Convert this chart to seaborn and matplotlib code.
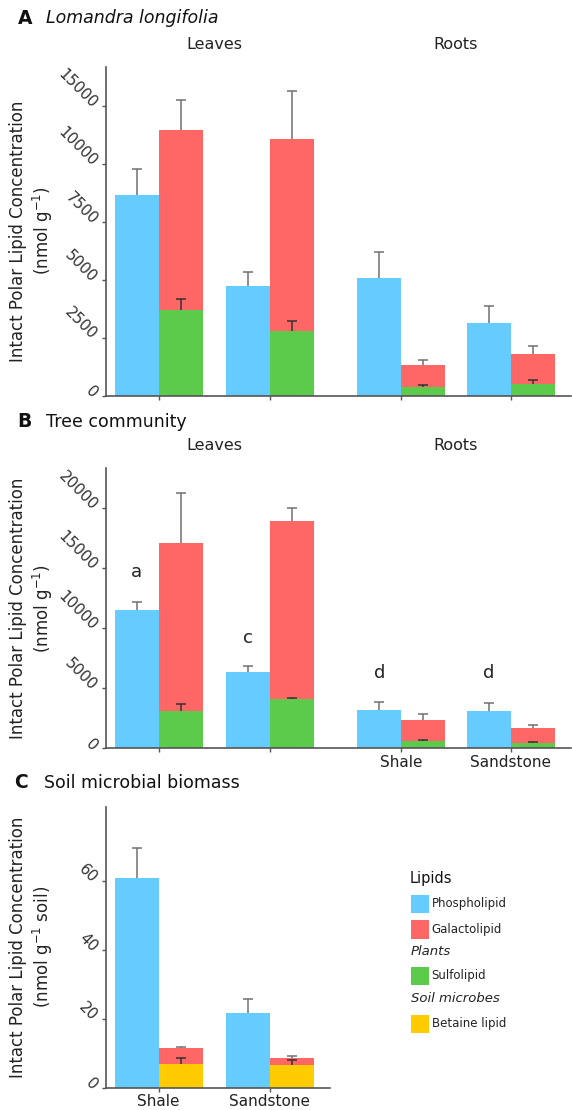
# -*- coding: utf-8 -*-

# Intact polar lipids in leaves, roots and soil (three stacked panels)
import numpy as np
import pandas as pd
import seaborn as sns
import matplotlib.pyplot as plt
import matplotlib.transforms as mtransforms
from matplotlib.patches import Rectangle

sns.set_theme(style="ticks")
plt.rcParams['font.family'] = ['DejaVu Sans']

W, H = 572, 1110

# colours
c_phos = '#66CCFF'
c_gal = '#FF6666'
c_sulf = '#5CCB4C'
c_bet = '#FFCC00'

# group positions: leaves shale, leaves sandstone, roots shale, roots sandstone
pos = [0, 1, 2.18, 3.16]
pos_c = [0, 1]
bar_w = 0.395

# Panel A - Lomandra longifolia (nmol g-1)
A_phos = [8650, 4720, 5080, 3110]
A_phos_err = [1120, 620, 1120, 750]
A_gal = [7760, 8270, 960, 1280]      # galactolipid, stacked on sulfolipid
A_gal_err = [1290, 2070, 220, 360]
A_sulf = [3690, 2800, 355, 495]
A_sulf_err = [460, 420, 100, 175]
A_ticks = [0, 2500, 5000, 7500, 10000, 12500]
A_ticklabels = ['0', '2500', '5000', '7500', '10000', '15000']

# Panel B - Tree community (nmol g-1)
B_phos = [11525, 6380, 3190, 3130]
B_phos_err = [690, 475, 640, 620]
B_gal = [13950, 14880, 1725, 1200]
B_gal_err = [4220, 1080, 475, 275]
B_sulf = [3135, 4085, 635, 465]
B_sulf_err = [560, 135, 60, 60]
B_ticks = [0, 5000, 10000, 15000, 20000]
B_letters = ['a', 'c', 'd', 'd']
B_letter_y = [14700, 9200, 6300, 6300]

# Panel C - Soil microbial biomass (nmol g-1 soil)
C_phos = [60.6, 21.7]
C_phos_err = [8.7, 4.0]
C_gal = [4.6, 2.1]
C_gal_err = [0.4, 0.5]
C_bet = [6.8, 6.5]
C_bet_err = [1.7, 1.5]
C_ticks = [0, 20, 40, 60]

sites = ['Shale', 'Sandstone']

legend_items = [('Phospholipid', c_phos), ('Galactolipid', c_gal), ('Plants', None),
                ('Sulfolipid', c_sulf), ('Soil microbes', None), ('Betaine lipid', c_bet)]


def fx(x):
    return x / W


def fy(y):
    return 1 - y / H


def up_err(ax, x, y, err, col):
    y = np.array(y, dtype=float)
    err = np.array(err, dtype=float)
    ax.vlines(x, y, y + err, color=col, lw=1.1, zorder=5)
    ax.plot(x, y + err, ls='none', marker='_', ms=7, mew=1.1, color=col, zorder=5)


def draw_bars(ax, x, phos, phos_err, gal, gal_err, base, base_err, base_col):
    x = np.array(x, dtype=float)
    xl = x - bar_w / 2
    xr = x + bar_w / 2
    wscale = bar_w / np.diff(x).min()
    top = np.array(base) + np.array(gal)
    kw = dict(native_scale=True, width=wscale, saturation=1, errorbar=None,
              linewidth=0, ax=ax)
    sns.barplot(x=xl, y=phos, color=c_phos, **kw)
    sns.barplot(x=xr, y=top, color=c_gal, **kw)
    sns.barplot(x=xr, y=base, color=base_col, **kw)
    up_err(ax, xl, phos, phos_err, '#707070')
    up_err(ax, xr, top, gal_err, '#707070')
    up_err(ax, xr, base, base_err, '#333333')
    return xl


def style_axis(ax, ticks, ticklabels, ylabel, xlim, ylim):
    sns.despine(ax=ax)
    for s in ['left', 'bottom']:
        ax.spines[s].set_color('#555555')
        ax.spines[s].set_linewidth(1.2)
    ax.set_xlim(*xlim)
    ax.set_ylim(*ylim)
    ax.set_yticks(ticks)
    ax.set_yticklabels(ticklabels, rotation=-45, ha='right', va='center',
                       rotation_mode='anchor', fontsize=11, color='#333333')
    ax.tick_params(axis='both', length=3, width=1, color='#555555')
    ax.tick_params(axis='y', pad=5)
    ax.tick_params(axis='x', labelsize=11, labelcolor='#222222', pad=1.5)
    ax.set_xlabel('')
    ax.set_ylabel('')
    bb = ax.get_position()
    fig.text(fx(32), (bb.y0 + bb.y1) / 2, ylabel, rotation=90, ha='center',
             va='center', fontsize=12, color='#222222', linespacing=1.2)


fig = plt.figure(figsize=(W / 100, H / 100), dpi=100)

axA = fig.add_axes([fx(105.8), fy(395.5), (570.7 - 105.8) / W, (395.5 - 66.7) / H])
axB = fig.add_axes([fx(105.8), fy(748.3), (570.7 - 105.8) / W, (748.3 - 468.3) / H])
axC = fig.add_axes([fx(105.8), fy(1087.5), (330 - 105.8) / W, (1087.5 - 806.7) / H])

# Panel A
draw_bars(axA, pos, A_phos, A_phos_err, A_gal, A_gal_err, A_sulf, A_sulf_err, c_sulf)
style_axis(axA, A_ticks, A_ticklabels, 'Intact Polar Lipid Concentration\n(nmol g$^{-1}$)',
           (-0.474, 3.70), (0, 14180))
axA.set_xticks(pos)
axA.set_xticklabels([''] * 4)

# Panel B
xl_B = draw_bars(axB, pos, B_phos, B_phos_err, B_gal, B_gal_err, B_sulf, B_sulf_err, c_sulf)
style_axis(axB, B_ticks, [str(t) for t in B_ticks],
           'Intact Polar Lipid Concentration\n(nmol g$^{-1}$)', (-0.474, 3.70), (0, 23330))
axB.set_xticks(pos)
axB.set_xticklabels(['', ''] + sites)
for xi, yi, s in zip(xl_B, B_letter_y, B_letters):
    axB.text(xi, yi, s, ha='center', va='center', fontsize=13, color='#222222')

# Panel C
draw_bars(axC, pos_c, C_phos, C_phos_err, C_gal, C_gal_err, C_bet, C_bet_err, c_bet)
style_axis(axC, C_ticks, [str(t) for t in C_ticks],
           'Intact Polar Lipid Concentration\n(nmol g$^{-1}$ soil)', (-0.474, 1.54), (0, 81.4))
axC.set_xticks(pos_c)
axC.set_xticklabels(sites)

# Leaves / Roots headers
for ax, yy in [(axA, 1.069), (axB, 1.083)]:
    tr = mtransforms.blended_transform_factory(ax.transData, ax.transAxes)
    ax.text((pos[0] + pos[1]) / 2, yy, 'Leaves', transform=tr, ha='center', va='center',
            fontsize=11.5, color='#222222')
    ax.text((pos[2] + pos[3]) / 2, yy, 'Roots', transform=tr, ha='center', va='center',
            fontsize=11.5, color='#222222')

# panel titles
fig.text(fx(17.5), fy(18), 'A', fontsize=13.5, fontweight='bold', va='center', color='#111111')
fig.text(fx(45.6), fy(18), 'Lomandra longifolia', fontsize=12.5, style='italic', va='center',
         color='#111111')
fig.text(fx(17.5), fy(421.7), 'B', fontsize=13.5, fontweight='bold', va='center', color='#111111')
fig.text(fx(45.6), fy(421.7), 'Tree community', fontsize=12.5, va='center', color='#111111')
fig.text(fx(14.6), fy(782.7), 'C', fontsize=13.5, fontweight='bold', va='center', color='#111111')
fig.text(fx(43.8), fy(782.7), 'Soil microbial biomass', fontsize=12.5, va='center', color='#111111')

# legend
fig.text(fx(410), fy(878.3), 'Lipids', fontsize=10.5, va='center', color='#111111')
leg_y = [904, 929.5, 951.7, 975.8, 998.3, 1024]
for (lab, col), yy in zip(legend_items, leg_y):
    if col is None:
        fig.text(fx(410.5), fy(yy), lab, fontsize=9.5, style='italic', va='center',
                 color='#222222')
    else:
        fig.add_artist(Rectangle((fx(410.7), fy(yy + 9)), 18.3 / W, 18.3 / H,
                                 transform=fig.transFigure, color=col, lw=0))
        fig.text(fx(431.7), fy(yy), lab, fontsize=8.5, va='center', color='#222222')

plt.savefig('out.png', dpi=100)
